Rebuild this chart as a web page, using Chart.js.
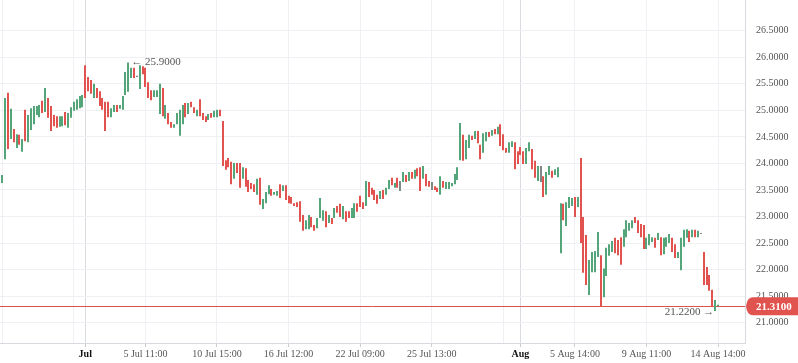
<!DOCTYPE html>
<html><head><meta charset="utf-8">
<script src="https://cdn.jsdelivr.net/npm/chart.js@4.4.1/dist/chart.umd.min.js"></script>
<style>html,body{margin:0;padding:0;background:#fff}#wrap{width:798px;height:363px;position:relative}</style>
</head><body><div id="wrap"><canvas id="c"></canvas></div>
<script>
// ---- data ----
const highs = [
23.67,23.78,25.23,25.33,25.03,24.65,24.55,24.54,24.46,25.01,
24.91,25.04,25.08,25.08,25.10,25.18,25.42,25.23,25.08,24.91,
24.89,24.89,24.89,24.97,24.95,25.06,25.16,25.21,25.27,25.29,
25.85,25.63,25.57,25.50,25.42,25.36,25.23,25.16,25.16,25.04,
25.10,25.10,25.10,25.27,25.72,25.90,25.80,25.80,25.65,25.85,
25.83,25.80,25.53,25.38,25.38,25.38,25.50,25.42,25.10,24.95,
24.78,24.74,24.95,25.01,25.10,25.14,25.14,25.16,25.06,25.01,
25.21,24.95,24.89,24.93,24.95,24.99,25.01,25.01,24.80,24.06,
24.10,24.03,24.01,24.01,24.01,23.93,23.91,23.69,23.63,23.61,
23.71,23.73,23.33,23.46,23.59,23.52,23.46,23.48,23.61,23.59,
23.59,23.39,23.37,23.25,23.27,23.29,23.03,22.93,23.03,22.99,
22.84,22.97,23.35,23.12,23.10,23.03,22.97,23.16,23.20,23.24,
23.20,23.10,23.10,23.16,23.25,23.25,23.39,23.27,23.67,23.65,
23.54,23.50,23.41,23.48,23.50,23.54,23.69,23.73,23.63,23.73,
23.67,23.84,23.78,23.84,23.84,23.88,23.91,23.93,23.95,23.80,
23.67,23.65,23.57,23.54,23.76,23.67,23.65,23.65,23.63,23.80,
23.93,24.76,24.54,24.44,24.54,24.52,24.61,24.61,24.35,24.57,
24.59,24.59,24.63,24.65,24.69,24.74,24.55,24.29,24.40,24.42,
24.40,24.23,24.31,24.23,24.29,24.40,24.27,24.05,23.95,23.95,
23.76,23.84,23.95,23.86,23.89,23.93,23.25,23.24,23.27,23.37,
23.35,23.37,23.37,24.10,22.99,22.65,22.18,22.33,22.35,22.71,
22.27,22.02,22.41,22.48,22.54,22.60,22.56,22.61,22.76,22.93,
22.88,22.93,22.99,22.93,22.86,22.84,22.60,22.67,22.61,22.60,
22.69,22.61,22.60,22.61,22.67,22.60,22.48,22.33,22.60,22.75,
22.76,22.73,22.75,22.75,22.73,22.69,22.33,22.05,21.90,21.62,
21.43,21.34];
const lows = [
23.57,23.63,24.08,24.27,24.46,24.40,24.29,24.35,24.22,24.42,
24.40,24.63,24.74,24.91,24.87,24.95,24.97,24.86,24.61,24.70,
24.67,24.69,24.70,24.72,24.67,24.86,24.99,25.01,25.04,25.06,
25.23,25.36,25.31,25.23,25.23,25.08,25.01,24.61,24.87,24.87,
24.97,24.97,25.03,25.01,25.29,25.35,25.61,25.61,25.63,25.40,
25.68,25.44,25.23,25.19,25.25,25.25,24.93,24.89,24.84,24.74,
24.67,24.67,24.74,24.52,24.74,24.87,24.93,25.06,24.95,24.89,
24.89,24.82,24.78,24.82,24.86,24.87,24.87,24.89,23.95,23.88,
23.93,23.61,23.71,23.82,23.54,23.71,23.56,23.46,23.52,23.46,
23.41,23.22,23.14,23.25,23.42,23.39,23.41,23.39,23.35,23.48,
23.31,23.25,23.24,23.20,23.18,22.90,22.73,22.76,22.76,22.80,
22.73,22.78,22.97,22.92,22.80,22.88,22.86,22.97,23.07,22.99,
22.95,22.90,22.97,22.97,22.97,23.09,23.18,23.14,23.20,23.37,
23.41,23.31,23.24,23.33,23.33,23.41,23.52,23.59,23.54,23.54,
23.48,23.65,23.65,23.67,23.71,23.71,23.76,23.48,23.71,23.57,
23.56,23.50,23.50,23.46,23.41,23.54,23.52,23.52,23.57,23.61,
23.69,24.06,24.05,24.08,24.29,24.44,24.46,24.38,24.08,24.20,
24.42,24.50,24.52,24.55,24.55,24.33,24.25,24.20,24.20,24.31,
23.89,23.99,24.16,23.99,23.99,24.23,23.89,23.73,23.67,23.65,
23.37,23.41,23.78,23.73,23.78,23.74,22.31,22.93,22.82,23.16,
23.20,22.99,23.18,22.50,21.94,21.71,21.52,21.95,21.95,22.24,
21.30,21.48,21.88,22.26,22.33,22.31,22.27,22.09,22.43,22.61,
22.73,22.78,22.88,22.69,22.61,22.39,22.39,22.46,22.52,22.41,
22.56,22.27,22.29,22.43,22.50,22.33,22.22,22.22,21.99,22.43,
22.60,22.52,22.61,22.61,22.61,22.67,21.71,21.71,21.60,21.30,
21.22,21.31];
// u = up (green), d = down (red), n = unchanged
const dirs = ("uuudududud"+"uuuuududdd"+"duuduuuuuu"+"dddudddddu"+"uduuuuudnu"+
  "dddduuudud"+"duuuududdu"+"ddduduuddd"+"dduddudddd"+"uduuuduudu"+
  "ddddddduud"+"duuudududd"+"udduudddud"+"ddduduudud"+"nudududdud"+
  "dndduduuuu"+"uuduududdu"+"udududdduu"+"dddduuddun"+"duuduuuduu"+
  "ududdduuuu"+"duuuuddduu"+"uudddduuud"+"uduuudduuu"+"ududundddd"+"uu").split('');
const xTickPos = [1, 26, 30, 51, 76, 101, 126, 151, 176, 182, 201, 226, 251];
const xTickLabels = ['', '', 'Jul', '5 Jul 11:00', '10 Jul 15:00', '16 Jul 12:00', '22 Jul 09:00', '25 Jul 13:00', '', 'Aug', '5 Aug 14:00', '9 Aug 11:00', '14 Aug 14:00'];
const monthLabels = ['Jul', 'Aug'];
const yTickValues = [21.0, 21.5, 22.0, 22.5, 23.0, 23.5, 24.0, 24.5, 25.0, 25.5, 26.0, 26.5];
const lastPrice = 21.31;

const UP = '#55a57b', DOWN = '#e2534f', FLAT = '#7d8a86';
const FONT = "'Liberation Serif', serif";

const candles = highs.map((h, i) => ({ x: i, y: [lows[i], h] }));

const overlay = {
  id: 'overlay',
  beforeDatasetsDraw(chart) {
    const { ctx, chartArea, scales } = chart;
    const y = Math.round(scales.y.getPixelForValue(lastPrice)) + 0.5;
    ctx.save();
    ctx.strokeStyle = '#e0504d';
    ctx.lineWidth = 1;
    ctx.beginPath();
    ctx.moveTo(chartArea.left, y);
    ctx.lineTo(chartArea.right, y);
    ctx.stroke();
    ctx.restore();
    // snap candle centres to whole pixels for crisp 2px candles
    chart.getDatasetMeta(0).data.forEach(el => { el.x = Math.round(el.x); });
  },
  afterDraw(chart) {
    const { ctx, chartArea, scales } = chart;
    const xs = scales.x, ys = scales.y;
    let hi = 0, lo = 0;
    highs.forEach((v, i) => { if (v > highs[hi]) hi = i; });
    lows.forEach((v, i) => { if (v < lows[lo]) lo = i; });
    ctx.save();
    ctx.font = '11px ' + FONT;
    ctx.fillStyle = '#555';
    ctx.textBaseline = 'middle';
    ctx.textAlign = 'left';
    ctx.fillText('\u2190 ' + highs[hi].toFixed(4), xs.getPixelForValue(hi) + 3, ys.getPixelForValue(highs[hi]));
    ctx.textAlign = 'right';
    ctx.fillText(lows[lo].toFixed(4) + ' \u2192', xs.getPixelForValue(lo) - 1, ys.getPixelForValue(lows[lo]) + 1);
    // last price tag
    const cy = ys.getPixelForValue(lastPrice);
    const x0 = chartArea.right + 1, x1 = chart.width, h = 9;
    ctx.fillStyle = '#e0534f';
    ctx.beginPath();
    ctx.moveTo(x0, cy);
    ctx.quadraticCurveTo(x0 + 1, cy - h, x0 + 7, cy - h);
    ctx.lineTo(x1, cy - h);
    ctx.lineTo(x1, cy + h);
    ctx.lineTo(x0 + 7, cy + h);
    ctx.quadraticCurveTo(x0 + 1, cy + h, x0, cy);
    ctx.closePath();
    ctx.fill();
    ctx.fillStyle = '#fff';
    ctx.font = 'bold 11px ' + FONT;
    ctx.textAlign = 'left';
    ctx.fillText(lastPrice.toFixed(4), chartArea.right + 11, cy + 0.5);
    ctx.restore();
  }
};

new Chart(document.getElementById('c'), {
  type: 'bar',
  data: {
    datasets: [{
      data: candles,
      barThickness: 2,
      inflateAmount: 0,
      backgroundColor: c => dirs[c.dataIndex] === 'u' ? UP : (dirs[c.dataIndex] === 'd' ? DOWN : FLAT),
      borderWidth: 0
    }]
  },
  options: {
    responsive: true,
    maintainAspectRatio: false,
    animation: false,
    devicePixelRatio: 1,
    layout: { padding: 0 },
    plugins: { legend: { display: false }, tooltip: { enabled: false } },
    scales: {
      x: {
        type: 'linear',
        min: 0.21,
        max: 260.42,
        offset: false,
        afterBuildTicks: s => { s.ticks = xTickPos.map(v => ({ value: v })); },
        afterFit: s => { s.height = 20; s.paddingLeft = 0; s.paddingRight = 0; },
        grid: {
          offset: false,
          color: c => monthLabels.includes(xTickLabels[c.index]) ? '#d9dde2' : '#eef0f3',
          drawTicks: true,
          tickLength: 4,
          tickColor: c => xTickLabels[c.index] ? '#c9ced4' : 'rgba(0,0,0,0)'
        },
        border: { display: true, color: '#d6dade' },
        ticks: {
          autoSkip: false,
          maxRotation: 0,
          padding: 1,
          callback: (v, i) => xTickLabels[i],
          color: c => monthLabels.includes(xTickLabels[c.index]) ? '#111' : '#555',
          font: c => ({ family: FONT, size: 10, weight: monthLabels.includes(xTickLabels[c.index]) ? 'bold' : 'normal' })
        }
      },
      y: {
        position: 'right',
        min: 20.618,
        max: 27.078,
        afterBuildTicks: s => { s.ticks = yTickValues.map(v => ({ value: v })); },
        afterFit: s => { s.width = 53; s.paddingTop = 0; s.paddingBottom = 0; },
        grid: { color: '#eef0f3', drawTicks: false },
        border: { display: true, color: '#d6dade' },
        ticks: {
          padding: 11,
          color: '#555',
          font: { family: FONT, size: 10 },
          callback: v => Number(v).toFixed(4)
        }
      }
    }
  },
  plugins: [overlay]
});
</script>
</body></html>
